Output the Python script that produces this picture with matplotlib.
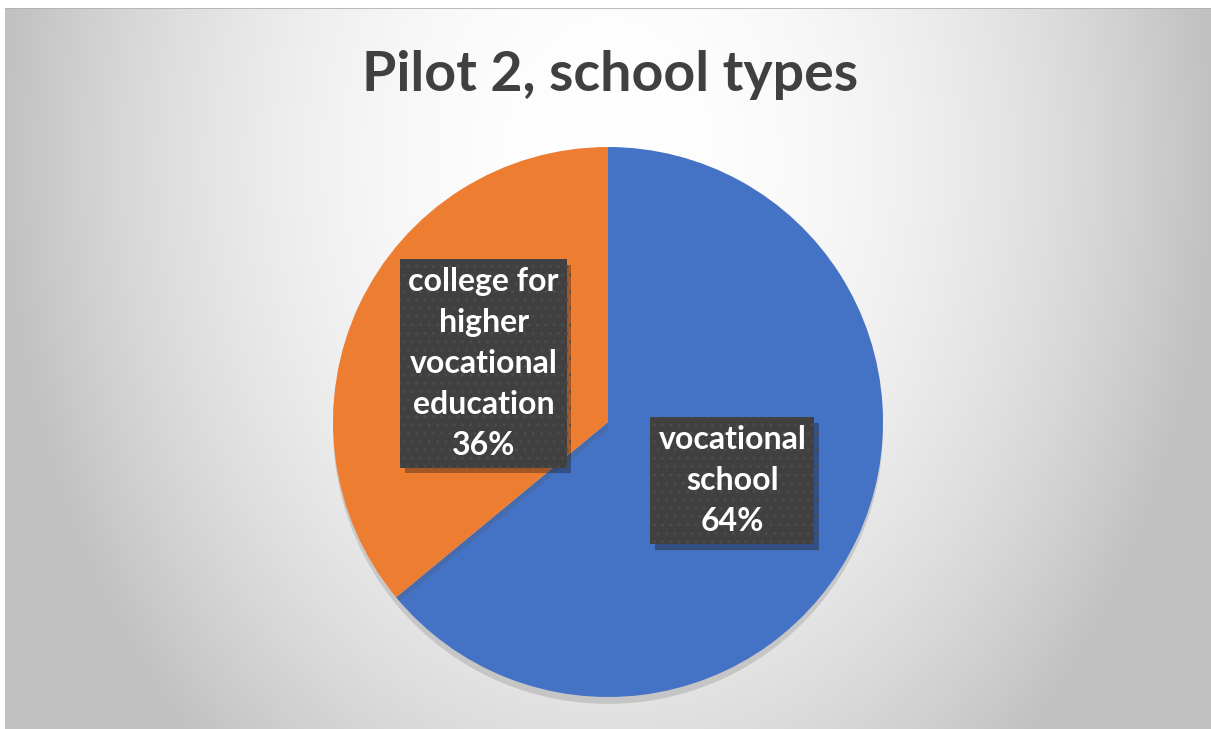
import numpy as np
import matplotlib
matplotlib.use("Agg")
import matplotlib.pyplot as plt
import matplotlib.patheffects as pe

plt.rcParams['font.family'] = ['Lato', 'DejaVu Sans']

# data
categories = ['vocational\nschool', 'college for\nhigher\nvocational\neducation']
shares = [64, 36]
colors = ['#4472C4', '#ED7D31']
title = 'Pilot 2, school types'

W, H = 1211, 729
fig = plt.figure(figsize=(W / 100, H / 100), dpi=100)
fig.patch.set_facecolor('white')

# radial grey background
bg = fig.add_axes([5 / W, 0, 1 - 5 / W, 1 - 8 / H])
yy, xx = np.mgrid[0:720, 0:1206]
dx = (xx - 603) / 605.0
dy = (yy - 150) / 800.0
val = 255 - 62 * np.clip(dx ** 2 + dy ** 2, 0, 1.0)
img = np.dstack([val, val, val]) / 255.0
bg.imshow(img, aspect='auto', extent=[0, 1, 0, 1])
bg.plot([0, 1], [1, 1], color='#b0b0b0', lw=1.2)
bg.set_xlim(0, 1)
bg.set_ylim(0, 1)
bg.axis('off')

# pie
r = 275
cx, cy = 608, 422
ax = fig.add_axes([(cx - r) / W, (H - cy - r) / H, 2 * r / W, 2 * r / H])
labels = [f"{c}\n{s}%" for c, s in zip(categories, shares)]
wedges, texts = ax.pie(shares, colors=colors, startangle=90, counterclock=False,
                       labels=labels, labeldistance=0.5,
                       wedgeprops=dict(linewidth=0))
for w in wedges:
    w.set_path_effects([pe.SimplePatchShadow(offset=(0, -5), alpha=0.2, shadow_rgbFace='#555555'),
                        pe.Normal()])
for t in texts:
    t.set_ha('center')
    t.set_va('center')
    t.set_color('white')
    t.set_fontsize(23)
    t.set_fontweight('bold')
    t.set_linespacing(1.5)
    t.set_bbox(dict(boxstyle='square,pad=0.25', facecolor='#404040', edgecolor='#4b4b4b',
                    linewidth=0, hatch='..'))
    t.get_bbox_patch().set_path_effects([pe.SimplePatchShadow(offset=(3, -4), alpha=0.35),
                                         pe.Normal()])
ax.set_xlim(-1, 1)
ax.set_ylim(-1, 1)
ax.axis('off')

fig.text(610 / W, 1 - 75 / H, title, ha='center', va='center', fontsize=40,
         fontweight='bold', color='#404040')

fig.savefig('out.png', dpi=100)
plt.close('all')
